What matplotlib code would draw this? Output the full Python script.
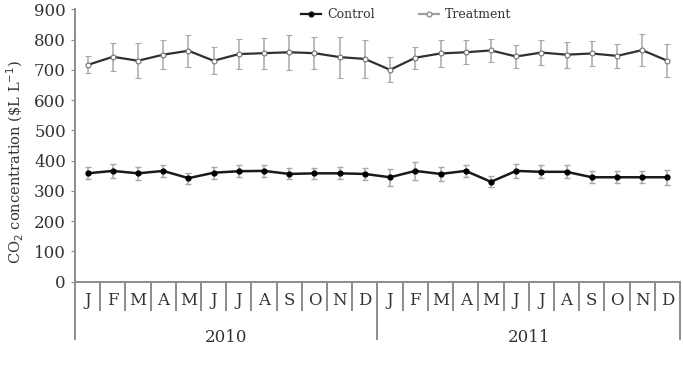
import matplotlib
matplotlib.use("Agg")
import matplotlib.pyplot as plt
from matplotlib.lines import Line2D
import numpy as np

plt.rcParams['font.family'] = ['DejaVu Serif']

months = ["J", "F", "M", "A", "M", "J", "J", "A", "S", "O", "N", "D"] * 2
years = ["2010", "2011"]

control = [358, 366, 358, 366, 342, 360, 365, 366, 356, 358, 358, 356,
           345, 366, 356, 366, 330, 366, 363, 363, 345, 345, 345, 345]
control_err = [20, 22, 22, 20, 18, 20, 20, 20, 18, 18, 20, 20,
               28, 30, 24, 20, 18, 24, 22, 22, 20, 20, 20, 24]
treatment = [716, 743, 730, 750, 763, 730, 752, 755, 758, 755, 742, 736,
             700, 740, 754, 758, 764, 744, 757, 750, 754, 746, 765, 730]
treatment_err = [28, 47, 58, 47, 53, 44, 50, 51, 58, 52, 68, 63,
                 41, 37, 44, 39, 39, 37, 41, 43, 42, 40, 52, 55]

fig = plt.figure(figsize=(6.83, 3.82), dpi=100)
ax = fig.add_axes([0.1098, 0.2626, 0.8858, 0.7131])

x = np.arange(len(months)) + 0.5
grey = "#8c8c8c"

ax.errorbar(x, treatment, yerr=treatment_err, color="#303030", lw=1.6,
            marker="o", ms=3.5, mfc="white", mec="#707070", mew=0.8,
            ecolor="#a8a8a8", elinewidth=1.1, capsize=2, capthick=1.0, zorder=3)
ax.errorbar(x, control, yerr=control_err, color="#1a1a1a", lw=1.8,
            marker="o", ms=3.5, mfc="black", mec="black",
            ecolor="#a8a8a8", elinewidth=1.1, capsize=2, capthick=1.0, zorder=3)

ax.set_xlim(0, len(months))
ax.set_ylim(0, 900)
ax.set_yticks(np.arange(0, 901, 100))
ax.tick_params(axis="y", labelsize=12, colors="#333333", length=3, color=grey)

for side in ["top", "right"]:
    ax.spines[side].set_visible(False)
for side in ["left", "bottom"]:
    ax.spines[side].set_color(grey)
    ax.spines[side].set_linewidth(1.4)

# month separators (minor) and year separators (major)
ax.set_xticks([0, 12, 24])
ax.set_xticklabels([])
ax.set_xticks([i for i in range(1, 24) if i != 12], minor=True)
ax.tick_params(axis="x", which="major", length=42, width=1.4, color=grey)
ax.tick_params(axis="x", which="minor", length=21, width=1.4, color=grey)

trans = ax.get_xaxis_transform()
for xi, m in zip(x, months):
    ax.text(xi, -0.07, m, transform=trans, ha="center", va="center",
            fontsize=12, color="#333333")
for i, yr in enumerate(years):
    ax.text(6 + 12 * i, -0.205, yr, transform=trans, ha="center", va="center",
            fontsize=12, color="#333333")

fig.text(0.022, 0.577, r"CO$_2$ concentration (\$L L$^{-1}$)", rotation=90,
         ha="center", va="center", fontsize=10.5, color="#333333")

handles = [
    Line2D([], [], color="#1a1a1a", lw=1.6, marker="o", ms=3.5, mfc="black"),
    Line2D([], [], color="#a0a0a0", lw=1.6, marker="o", ms=3.5, mfc="white", mec="#909090"),
]
fig.legend(handles, ["Control", "Treatment"], loc="center", bbox_to_anchor=(0.595, 0.962),
           ncol=2, frameon=False, fontsize=9, handlelength=1.6, columnspacing=3.5,
           handletextpad=0.5, labelcolor="#333333")

fig.savefig("out.png", dpi=100)
